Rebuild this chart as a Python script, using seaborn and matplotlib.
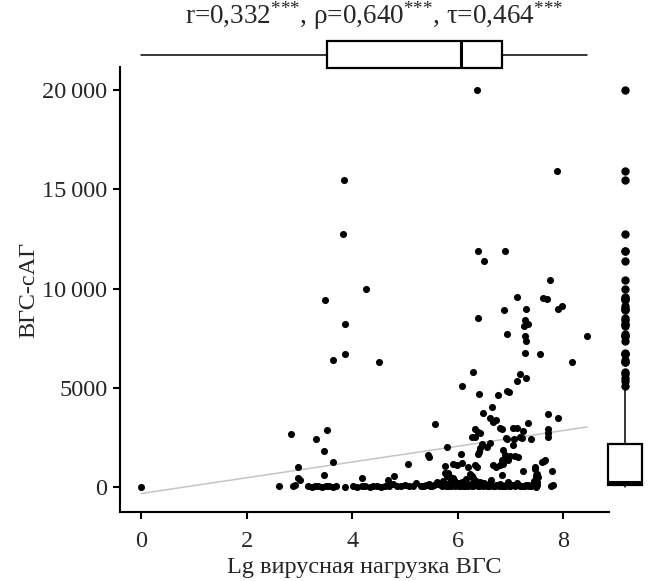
import matplotlib
matplotlib.use('Agg')
import matplotlib.pyplot as plt
import seaborn as sns
import pandas as pd

# values
# Lg viral load (x) and HCV-cAg (y), upper points first, then the dense bottom band
load_lg = [
    6.37, 7.89, 3.85, 3.83, 6.39, 6.90, 6.50, 7.75, 4.27, 3.49,
    7.13, 7.62, 7.69, 7.98, 7.91, 6.88, 7.30, 7.28, 7.34, 7.26,
    6.39, 3.87, 8.45, 6.94, 7.28, 7.30, 7.28, 7.56, 3.64, 3.87,
    4.51, 8.17, 6.29, 7.19, 7.30, 7.13, 6.09,
    6.41, 6.77, 6.94, 6.98, 6.65, 5.57, 6.48, 6.62, 6.67, 6.72,
    7.72, 7.91, 7.34, 6.81, 6.84, 7.05, 7.13, 7.24, 6.33, 6.39,
    6.43, 6.27, 6.33, 7.72, 7.72, 7.72, 6.92, 6.94, 7.19, 7.22,
    7.07, 7.39, 2.84, 3.32, 3.53, 6.62,
    7.05, 6.56, 6.46, 6.43, 6.41, 6.39, 5.80, 5.44, 5.46, 6.07,
    6.86, 6.90, 6.94, 6.96, 6.84, 6.86, 6.81, 7.09, 7.15, 7.00,
    7.66, 7.60, 7.47, 5.76, 5.91, 5.99, 6.09, 6.20, 6.33, 6.37,
    6.67, 6.73, 7.24, 7.51, 7.79, 7.53, 6.84, 5.76, 5.82, 5.80,
    5.86, 5.91, 6.24, 6.27, 6.29, 3.47, 2.98, 3.64, 5.06, 2.98,
    3.01, 3.47, 4.19, 4.80, 4.68, 7.47, 7.64,
    0.00, 2.62, 2.88, 2.92, 3.17, 3.24, 3.30, 3.36, 3.42, 3.50,
    3.57, 3.63, 3.70, 3.87, 4.02, 4.10, 4.18, 4.25, 4.33, 4.40,
    4.47, 4.55, 4.62, 4.70, 4.78, 4.86, 4.93, 5.00, 5.08, 5.15,
    5.22, 5.30, 5.37, 5.45, 5.52, 5.60, 5.68, 5.72, 5.78, 5.84,
    5.88, 5.94, 5.98, 6.03, 6.08, 6.12, 6.16, 6.20, 6.25, 6.30,
    6.35, 6.40, 6.45, 6.50, 6.55, 6.60, 6.64, 6.70, 6.75, 6.80,
    6.85, 6.90, 6.95, 7.00, 7.06, 7.12, 7.18, 7.24, 7.30, 7.36,
    7.42, 7.51, 7.51, 7.81, 7.77, 7.49, 7.49,
    5.33, 5.40, 5.48, 5.55, 5.63, 5.70, 5.75, 5.81, 5.90, 5.96,
    6.01, 6.06, 6.10, 6.14, 6.22, 6.28, 6.32, 6.38, 6.42, 6.48,
    6.53, 6.58, 6.62, 6.68, 6.72, 6.78, 6.83, 6.88, 6.93, 6.98,
    7.03, 7.09, 7.15, 7.21, 7.27, 7.33, 7.40, 7.45, 7.48, 7.49,
    7.49,
]
sag_level = [
    20000, 15900, 15450, 12750, 11900, 11900, 11400, 10430, 9980, 9420,
    9570, 9520, 9470, 9120, 8970, 8920, 8970, 8410, 8210, 8110,
    8510, 8210, 7610, 7710, 7610, 7360, 6750, 6700, 6400, 6700,
    6300, 6300, 5790, 5690, 5490, 5340, 5090,
    4690, 4640, 4840, 4790, 4030, 3170, 3730, 3480, 3270, 3380,
    3680, 3480, 3220, 2970, 2920, 2970, 2970, 2820, 2920, 2770,
    2720, 2520, 2520, 2920, 2720, 2520, 2470, 2420, 2520, 2470,
    2420, 2420, 2670, 2420, 2870, 2220,
    2120, 2020, 2170, 1970, 1760, 1660, 2020, 1610, 1510, 1660,
    1860, 1610, 1510, 1360, 1360, 1160, 1110, 1560, 1510, 1560,
    1360, 1260, 1010, 1060, 1160, 1110, 1210, 1010, 1110, 1010,
    1110, 1010, 810, 660, 810, 500, 600, 710, 710, 550,
    500, 450, 650, 550, 450, 1810, 1010, 1260, 1160, 450,
    350, 600, 450, 550, 350, 900, 1310,
    0, 50, 30, 100, 30, 20, 40, 30, 20, 40,
    30, 20, 40, 0, 30, 20, 40, 30, 20, 40,
    30, 20, 40, 30, 150, 30, 40, 100, 30, 40,
    200, 30, 40, 150, 30, 250, 80, 300, 60, 200,
    40, 350, 80, 30, 250, 60, 400, 30, 150, 60,
    300, 40, 80, 200, 30, 60, 350, 40, 80, 150,
    30, 60, 250, 40, 80, 200, 30, 60, 100, 40,
    150, 100, 250, 100, 50, 200, 0,
    60, 120, 40, 90, 150, 50, 120, 40, 100, 60,
    180, 40, 120, 60, 90, 40, 130, 70, 250, 40,
    110, 60, 180, 30, 120, 60, 90, 40, 130, 60,
    100, 40, 120, 60, 40, 90, 50, 300, 500, 600,
    400,
]

# marginal box statistics: whisker low, q1, median, q3, whisker high
load_box = [0.0, 3.53, 6.07, 6.84, 8.45]
sag_box = [0, 100, 250, 2166, 5040]

x_ticks = [0, 2, 4, 6, 8]
y_ticks = [0, 5000, 10000, 15000, 20000]
y_tick_labels = ['0', '5000', '10\u2009000', '15\u2009000', '20\u2009000']
stars = r'$^{\text{***}}$'
title = f'r=0,332{stars}, ρ=0,640{stars}, τ=0,464{stars}'

df = pd.DataFrame({'load': load_lg, 'sag': sag_level})

sns.set_theme(style='white')
plt.rcParams['font.family'] = ['Liberation Serif', 'DejaVu Serif']
plt.rcParams['mathtext.fontset'] = 'custom'
plt.rcParams['mathtext.rm'] = 'Liberation Serif'
plt.rcParams['mathtext.it'] = 'Liberation Serif:italic'

FS = 17.5
W, H = 649, 581
fig = plt.figure(figsize=(W / 100, H / 100), dpi=100)

ax = fig.add_axes([120 / W, 1 - 512 / H, 489 / W, 445 / H])
ax_top = fig.add_axes([120 / W, 1 - 71.4 / H, 489 / W, 33.8 / H])
ax_right = fig.add_axes([604 / W, 1 - 512 / H, 42.5 / W, 445 / H])

# main scatter + fitted line
sns.regplot(data=df, x='load', y='sag', ax=ax, scatter=False, ci=None,
            line_kws={'color': '#c4c4c4', 'linewidth': 1.1})
sns.scatterplot(data=df, x='load', y='sag', ax=ax, color='black',
                s=26, linewidth=0, zorder=3)

ax.set_xlim(-0.4, 8.87)
ax.set_ylim(-1260, 21160)
ax.set_xticks(x_ticks)
ax.set_xticklabels([str(t) for t in x_ticks])
ax.set_yticks(y_ticks)
ax.set_yticklabels(y_tick_labels)
ax.set_xlabel('Lg вирусная нагрузка ВГС', fontsize=FS, labelpad=3)
ax.set_ylabel('ВГС-сАГ', fontsize=FS, labelpad=2)
ax.tick_params(axis='both', which='both', labelsize=FS, direction='out',
               length=5, width=1.5, color='black', left=True, bottom=True,
               pad=4)
ax.tick_params(axis='x', pad=9)
for side in ['top', 'right']:
    ax.spines[side].set_visible(False)
for side in ['left', 'bottom']:
    ax.spines[side].set_color('black')
    ax.spines[side].set_linewidth(1.5)

box_kw = dict(widths=0.8, showcaps=False, patch_artist=True,
              boxprops={'facecolor': 'white', 'edgecolor': 'black', 'linewidth': 1.6},
              medianprops={'color': 'black', 'linewidth': 2.2},
              whiskerprops={'color': 'black', 'linewidth': 1.1},
              flierprops={'marker': 'o', 'markerfacecolor': 'black',
                          'markeredgecolor': 'black', 'markersize': 5})

# top marginal box (x distribution)
top_stats = [{'whislo': load_box[0], 'q1': load_box[1], 'med': load_box[2],
              'q3': load_box[3], 'whishi': load_box[4], 'fliers': []}]
ax_top.bxp(top_stats, positions=[0], vert=False, **box_kw)
ax_top.set_xlim(ax.get_xlim())
ax_top.set_ylim(-0.5, 0.5)
ax_top.axis('off')

# right marginal box (y distribution), outliers from the data
right_fliers = [v for v in sag_level if v > sag_box[4]]
right_stats = [{'whislo': sag_box[0], 'q1': sag_box[1], 'med': sag_box[2],
                'q3': sag_box[3], 'whishi': sag_box[4], 'fliers': right_fliers}]
ax_right.bxp(right_stats, positions=[0], vert=True, **box_kw)
ax_right.set_ylim(ax.get_ylim())
ax_right.set_xlim(-0.5, 0.5)
ax_right.axis('off')
ax_right.patch.set_alpha(0)

fig.text(374 / W, 1 - 16 / H, title, fontsize=19.5, ha='center', va='center')

fig.savefig('out.png', dpi=100)
